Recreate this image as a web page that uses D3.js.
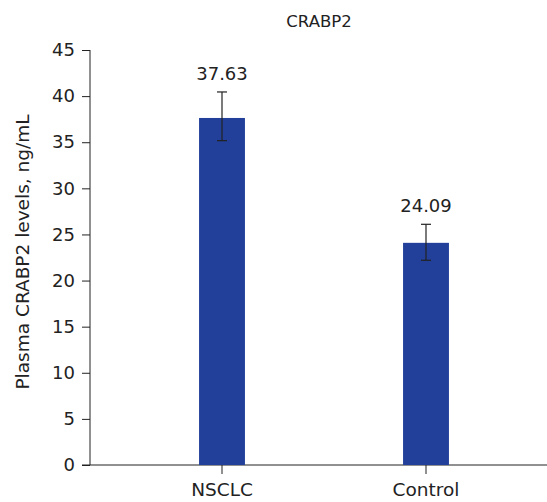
<!DOCTYPE html>
<html><head><meta charset="utf-8">
<script src="https://cdn.jsdelivr.net/npm/d3@7"></script>
<style>body{margin:0;background:#fff}svg{display:block}text{font-family:"DejaVu Sans",sans-serif;fill:#222}</style>
</head><body>
<svg id="c" width="547" height="502"></svg>
<script>
const categories = ["NSCLC", "Control"];
const values = [37.63, 24.09];
const errLow = [35.17, 22.2];
const errHigh = [40.45, 26.1];
const yTicks = [0, 5, 10, 15, 20, 25, 30, 35, 40, 45];
const title = "CRABP2";
const yLabel = "Plasma CRABP2 levels, ng/mL";

const svg = d3.select("#c");
const x = d3.scaleBand().domain(categories).range([120, 528]).paddingInner(0.775).paddingOuter(0.3875);
const y = d3.scaleLinear().domain([0, 45]).range([465, 50]);
const ink = "#222";

// y axis
const ya = svg.append("g").attr("transform", "translate(90,0)")
  .call(d3.axisLeft(y).tickValues(yTicks).tickSize(8).tickPadding(7).tickFormat(d3.format("d")));
ya.select(".domain").attr("stroke", ink).attr("d", `M0,${y(45)}V${y(0)}`);
ya.selectAll(".tick line").attr("stroke", ink);
ya.selectAll(".tick text").attr("font-size", 18).style("fill", ink);

// x axis
const xa = svg.append("g").attr("transform", `translate(0,${y(0)})`)
  .call(d3.axisBottom(x).tickSize(9).tickPadding(9));
xa.select(".domain").attr("stroke", ink).attr("d", "M82,0H547");
xa.selectAll(".tick line").attr("stroke", ink);
xa.selectAll(".tick text").attr("font-size", 18.5).style("fill", ink);

// bars
svg.append("g").selectAll("rect").data(categories).join("rect")
  .attr("x", d => x(d)).attr("width", x.bandwidth())
  .attr("y", (d, i) => y(values[i])).attr("height", (d, i) => y(0) - y(values[i]))
  .attr("fill", "#22409a");

// error bars
const eb = svg.append("g").attr("stroke", ink).attr("stroke-width", 1.2);
categories.forEach((c, i) => {
  const cx = x(c) + x.bandwidth() / 2;
  eb.append("line").attr("x1", cx).attr("x2", cx).attr("y1", y(errHigh[i])).attr("y2", y(errLow[i]));
  eb.append("line").attr("x1", cx - 5).attr("x2", cx + 5).attr("y1", y(errHigh[i])).attr("y2", y(errHigh[i]));
  eb.append("line").attr("x1", cx - 5).attr("x2", cx + 5).attr("y1", y(errLow[i])).attr("y2", y(errLow[i]));
});

// value labels
svg.append("g").selectAll("text").data(categories).join("text")
  .attr("x", d => x(d) + x.bandwidth() / 2)
  .attr("y", (d, i) => y(errHigh[i]) - 12)
  .attr("text-anchor", "middle").attr("font-size", 18)
  .text((d, i) => values[i].toFixed(2));

// title
svg.append("text").attr("x", 319).attr("y", 27).attr("text-anchor", "middle").attr("font-size", 16.5).text(title);

// y label
svg.append("text").attr("transform", `translate(29,252) rotate(-90)`)
  .attr("text-anchor", "middle").attr("font-size", 18.5).text(yLabel);
</script>
</body></html>
